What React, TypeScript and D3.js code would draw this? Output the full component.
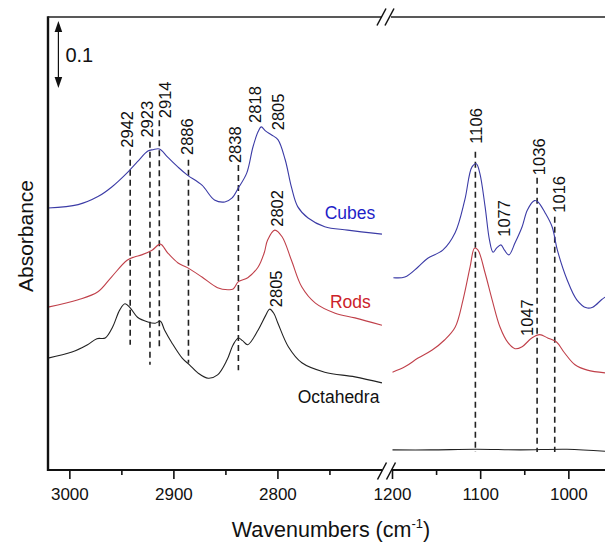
import React from 'react';
import * as d3 from 'd3';

type P = [number, number];

// ---------- data (wavenumber cm^-1, absorbance as displayed, offsets included) ----------
const cubesHigh: P[] = [
  [3021, 0.391], [2992, 0.396], [2973, 0.408], [2960, 0.422], [2944, 0.445], [2935, 0.46],
  [2925, 0.476], [2920, 0.478], [2914, 0.479], [2906, 0.467], [2896, 0.452], [2887, 0.44],
  [2873, 0.425], [2861, 0.403], [2851, 0.4], [2844, 0.406], [2838, 0.421], [2830, 0.443],
  [2824, 0.482], [2819, 0.505], [2816, 0.512], [2812, 0.506], [2806, 0.5], [2800, 0.493],
  [2793, 0.463], [2787, 0.422], [2781, 0.393], [2771, 0.376], [2755, 0.363], [2733, 0.358],
  [2700, 0.352],
];
const rodsHigh: P[] = [
  [3021, 0.243], [2992, 0.254], [2973, 0.266], [2960, 0.288], [2945, 0.313], [2938, 0.318],
  [2931, 0.321], [2921, 0.328], [2913, 0.337], [2906, 0.324], [2896, 0.309], [2887, 0.302],
  [2873, 0.288], [2858, 0.272], [2848, 0.269], [2843, 0.27], [2838, 0.281], [2829, 0.287],
  [2819, 0.303], [2813, 0.325], [2810, 0.343], [2803, 0.358], [2796, 0.348], [2787, 0.313],
  [2777, 0.273], [2764, 0.249], [2745, 0.234], [2726, 0.227], [2700, 0.216],
];
const octaHigh: P[] = [
  [3021, 0.167], [2998, 0.176], [2983, 0.187], [2974, 0.196], [2966, 0.197], [2959, 0.213],
  [2952, 0.239], [2947, 0.248], [2942, 0.242], [2935, 0.228], [2925, 0.221], [2918, 0.219],
  [2913, 0.222], [2909, 0.209], [2902, 0.19], [2892, 0.167], [2885, 0.157], [2877, 0.145],
  [2867, 0.137], [2858, 0.142], [2849, 0.164], [2843, 0.187], [2838, 0.197], [2834, 0.193],
  [2829, 0.187], [2819, 0.209], [2812, 0.23], [2808, 0.24], [2804, 0.234], [2800, 0.219],
  [2790, 0.184], [2777, 0.16], [2755, 0.146], [2726, 0.139], [2700, 0.13],
];
const cubesLow: P[] = [
  [1199, 0.287], [1186, 0.288], [1171, 0.303], [1160, 0.316], [1143, 0.328], [1129, 0.354],
  [1118, 0.403], [1110, 0.452], [1105, 0.457], [1101, 0.443], [1095, 0.393], [1090, 0.343],
  [1086, 0.325], [1082, 0.331], [1077, 0.336], [1073, 0.328], [1068, 0.321], [1061, 0.339],
  [1053, 0.363], [1047, 0.388], [1039, 0.402], [1035, 0.4], [1027, 0.384], [1019, 0.363],
  [1013, 0.328], [1002, 0.284], [991, 0.254], [980, 0.242], [973, 0.243], [963, 0.254],
  [959, 0.258],
];
const rodsLow: P[] = [
  [1200, 0.146], [1186, 0.154], [1171, 0.167], [1155, 0.179], [1141, 0.194], [1129, 0.213],
  [1120, 0.254], [1112, 0.303], [1107, 0.331], [1103, 0.328], [1095, 0.294], [1087, 0.254],
  [1078, 0.213], [1069, 0.19], [1061, 0.181], [1053, 0.184], [1042, 0.197], [1033, 0.202],
  [1024, 0.197], [1014, 0.191], [1005, 0.175], [993, 0.157], [979, 0.149], [959, 0.145],
];
const octaLow: P[] = [
  [1200, 0.03], [1157, 0.03], [1105, 0.031], [1055, 0.03], [1002, 0.031], [959, 0.028],
];

const seriesNames = ['Cubes', 'Rods', 'Octahedra'];
const seriesLabelWn = [2755, 2750, 2781];
const seriesLabelAbs = [0.375, 0.242, 0.1];

// dashed reference lines: wavenumber, top absorbance, bottom absorbance
const dashHighWn = [2942, 2923, 2914, 2886, 2838];
const dashHighTop = [0.478, 0.49, 0.522, 0.463, 0.455];
const dashHighBottom = [0.187, 0.157, 0.182, 0.16, 0.149];
const dashLowWn = [1106, 1036, 1016];
const dashLowTop = [0.475, 0.436, 0.378];
const dashLowBottom = [0.027, 0.027, 0.027];

// peak labels: text, anchor wavenumber, absorbance at the label's lower end
const peakHighText = ['2942', '2923', '2914', '2886', '2838', '2818', '2805', '2802', '2805'];
const peakHighWn = [2945, 2926, 2909, 2887, 2841, 2822, 2800, 2801, 2802];
const peakHighAbs = [0.481, 0.496, 0.525, 0.47, 0.458, 0.518, 0.507, 0.363, 0.243];
const peakLowText = ['1106', '1077', '1036', '1016', '1047'];
const peakLowWn = [1105, 1074, 1034, 1011, 1047];
const peakLowAbs = [0.487, 0.348, 0.44, 0.384, 0.2];

const majorHigh = [3000, 2900, 2800];
const minorHigh = [2950, 2850, 2750];
const majorLow = [1200, 1100, 1000];
const minorLow = [1150, 1050];

const scaleBarValue = 0.1;
const scaleBarTop = 0.67;

const FONT = '"Liberation Sans", Arial, Helvetica, sans-serif';
const lineColors = ['#3b3ba6', '#c0404a', '#222222'];
const labelColors = ['#1f1fc8', '#cc2229', '#111111'];

export default function App() {
  const W = 605, H = 543;
  const left = 48, top = 17, bottom = 470, right = 605;
  const breakA = 382, breakB = 391;

  const xL = d3.scaleLinear().domain([3021, 2699]).range([left, 383]);
  const xR = d3.scaleLinear().domain([1200, 959]).range([392.5, right]);
  const y = d3.scaleLinear().domain([0, 0.676]).range([bottom, top]);

  const lineL = d3.line<P>().x(d => xL(d[0])).y(d => y(d[1])).curve(d3.curveCatmullRom.alpha(0.5));
  const lineR = d3.line<P>().x(d => xR(d[0])).y(d => y(d[1])).curve(d3.curveCatmullRom.alpha(0.5));

  const highs = [cubesHigh, rodsHigh, octaHigh];
  const lows = [cubesLow, rodsLow, octaLow];

  const slash = (cx: number, cy: number) => (
    <line x1={cx - 4.5} y1={cy + 8.5} x2={cx + 4.5} y2={cy - 8.5} stroke="#111" strokeWidth={1.5} />
  );

  const barX = xL(3011);
  const barTopY = y(scaleBarTop);
  const barBotY = y(scaleBarTop - scaleBarValue);

  return (
    <svg width={W} height={H} style={{ position: 'absolute', left: 0, top: 0, background: '#fff' }}
      fontFamily={FONT}>
      <rect x={0} y={0} width={W} height={H} fill="#fff" />

      {/* dashed lines */}
      {dashHighWn.map((w, i) => (
        <line key={'dh' + i} x1={xL(w)} x2={xL(w)} y1={y(dashHighTop[i])} y2={y(dashHighBottom[i])}
          stroke="#222" strokeWidth={1.6} strokeDasharray="6 4" />
      ))}
      {dashLowWn.map((w, i) => (
        <line key={'dl' + i} x1={xR(w)} x2={xR(w)} y1={y(dashLowTop[i])} y2={y(dashLowBottom[i])}
          stroke="#222" strokeWidth={1.6} strokeDasharray="6 4" />
      ))}

      {/* spectra */}
      {highs.map((s, i) => (
        <path key={'h' + i} d={lineL(s) || ''} fill="none" stroke={lineColors[i]} strokeWidth={1.1} />
      ))}
      {lows.map((s, i) => (
        <path key={'l' + i} d={lineR(s) || ''} fill="none" stroke={lineColors[i]} strokeWidth={1.1} />
      ))}

      {/* peak labels */}
      {peakHighText.map((t, i) => {
        const px = xL(peakHighWn[i]);
        const py = y(peakHighAbs[i]);
        return (
          <text key={'ph' + i} x={0} y={0} transform={`translate(${px},${py}) rotate(-90)`}
            dominantBaseline="central" fontSize={16.5} fill="#111">{t}</text>
        );
      })}
      {peakLowText.map((t, i) => {
        const px = xR(peakLowWn[i]);
        const py = y(peakLowAbs[i]);
        return (
          <text key={'pl' + i} x={0} y={0} transform={`translate(${px},${py}) rotate(-90)`}
            dominantBaseline="central" fontSize={16.5} fill="#111">{t}</text>
        );
      })}

      {/* series labels */}
      {seriesNames.map((n, i) => (
        <text key={'sn' + i} x={xL(seriesLabelWn[i])} y={y(seriesLabelAbs[i])} fontSize={17.5}
          fill={labelColors[i]}>{n}</text>
      ))}

      {/* frame */}
      <line x1={left} x2={left} y1={top - 0.7} y2={bottom + 1} stroke="#111" strokeWidth={2.4} />
      <line x1={left} x2={breakA} y1={top} y2={top} stroke="#222" strokeWidth={1.3} />
      <line x1={breakB} x2={right} y1={top} y2={top} stroke="#222" strokeWidth={1.3} />
      {slash(breakA - 0.5, top)}
      {slash(breakB - 1.5, top)}
      <line x1={left} x2={breakA} y1={bottom} y2={bottom} stroke="#111" strokeWidth={2} />
      <line x1={breakB} x2={right} y1={bottom} y2={bottom} stroke="#111" strokeWidth={2} />
      {slash(breakA, bottom + 1)}
      {slash(breakB, bottom + 1)}

      {/* ticks */}
      {majorHigh.map(t => (
        <g key={'mh' + t}>
          <line x1={xL(t)} x2={xL(t)} y1={bottom} y2={bottom + 9} stroke="#111" strokeWidth={1.6} />
          <text x={xL(t)} y={bottom + 30} textAnchor="middle" fontSize={17} fill="#111">{t}</text>
        </g>
      ))}
      {minorHigh.map(t => (
        <line key={'nh' + t} x1={xL(t)} x2={xL(t)} y1={bottom} y2={bottom + 5} stroke="#111" strokeWidth={1.6} />
      ))}
      {majorLow.map(t => (
        <g key={'ml' + t}>
          <line x1={xR(t)} x2={xR(t)} y1={bottom} y2={bottom + 9} stroke="#111" strokeWidth={1.6} />
          <text x={xR(t)} y={bottom + 30} textAnchor="middle" fontSize={17} fill="#111">{t}</text>
        </g>
      ))}
      {minorLow.map(t => (
        <line key={'nl' + t} x1={xR(t)} x2={xR(t)} y1={bottom} y2={bottom + 5} stroke="#111" strokeWidth={1.6} />
      ))}

      {/* axis titles */}
      <text x={331} y={537} textAnchor="middle" fontSize={21.5} fill="#111">
        Wavenumbers (cm<tspan dy={-9} fontSize={13}>-1</tspan><tspan dy={9}>)</tspan>
      </text>
      <text x={0} y={0} transform="translate(25,236) rotate(-90)" textAnchor="middle"
        dominantBaseline="central" fontSize={21} fill="#111">Absorbance</text>

      {/* scale bar */}
      <line x1={barX} x2={barX} y1={barTopY + 8} y2={barBotY - 8} stroke="#111" strokeWidth={1.2} />
      <path d={`M${barX},${barTopY} L${barX - 3.8},${barTopY + 11} L${barX + 3.8},${barTopY + 11} Z`} fill="#111" />
      <path d={`M${barX},${barBotY} L${barX - 3.8},${barBotY - 11} L${barX + 3.8},${barBotY - 11} Z`} fill="#111" />
      <text x={barX + 7} y={(barTopY + barBotY) / 2 + 7} fontSize={20} fill="#111">{scaleBarValue}</text>
    </svg>
  );
}
